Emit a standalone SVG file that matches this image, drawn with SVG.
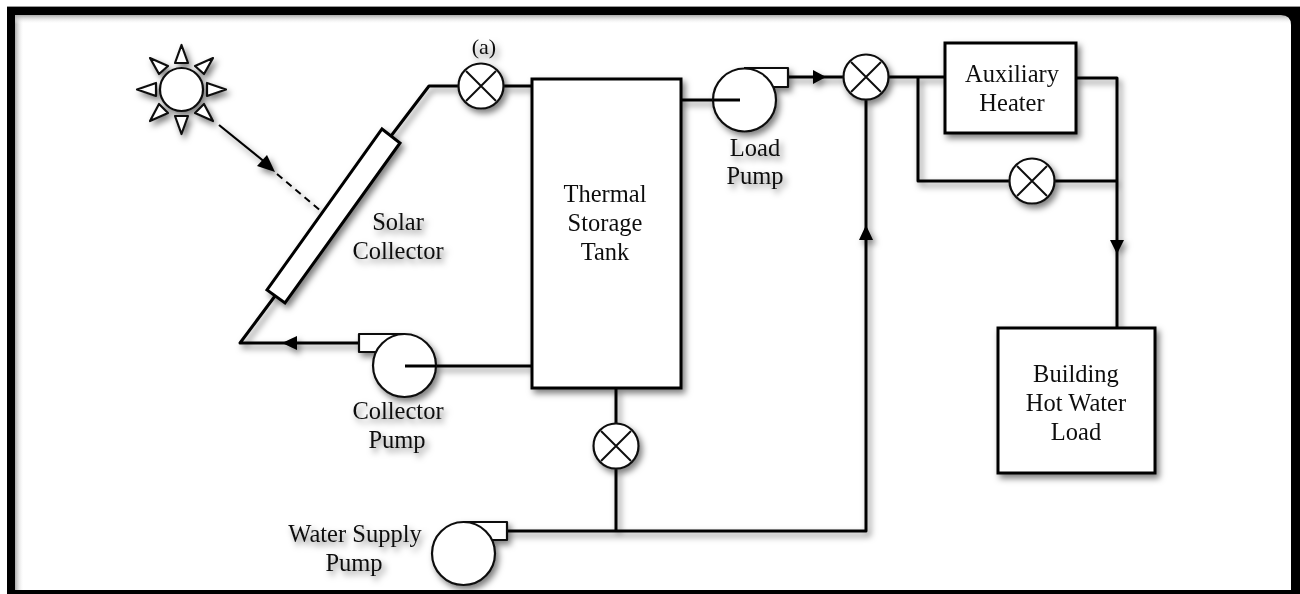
<svg xmlns="http://www.w3.org/2000/svg" width="1300" height="594" viewBox="0 0 1300 594">
<style>
.p{fill:none;stroke:#000;stroke-width:3;stroke-linejoin:round}
.b{fill:#fff;stroke:#000;stroke-width:3}
.t{fill:#fff;stroke:#111;stroke-width:2.200;stroke-linejoin:round}
.c{fill:#fff;stroke:#111;stroke-width:2.200}
.x{stroke:#111;stroke-width:2;fill:none}
.a{fill:#000}
text{font-family:"Liberation Serif","Times New Roman",serif;font-size:24.500px;fill:#111;text-anchor:middle}
</style>
<defs>
<filter id="s" x="0" y="0" width="1300" height="594" filterUnits="userSpaceOnUse">
<feGaussianBlur in="SourceGraphic" stdDeviation=".45" result="g"/>
<feDropShadow in="g" dx="3" dy="4" stdDeviation="3" flood-color="#000" flood-opacity=".5"/>
</filter>
<linearGradient id="gl" x1="0" x2="1" y1="0" y2="0"><stop offset="0" stop-color="#aaa"/><stop offset="1" stop-color="#fff" stop-opacity="0"/></linearGradient>
<linearGradient id="gt" x1="0" x2="0" y1="0" y2="1"><stop offset="0" stop-color="#aaa"/><stop offset="1" stop-color="#fff" stop-opacity="0"/></linearGradient>
</defs>
<rect width="1300" height="594" fill="#fff"/>
<g filter="url(#s)">
<g id="connectors">
<path class="p" d="M391,136L429,86H460M503,86H532"/>
<path class="p" d="M681,100H740"/>
<path class="p" d="M788,77H845"/>
<path class="a" d="M826,77L813,70V84z"/>
<path class="p" d="M889,77H945M918,77V181H1009M1055,181H1117M1076,78H1117V328"/>
<path class="a" d="M1117,254L1110,240H1124z"/>
<path class="p" d="M866,100V531H507"/>
<path class="a" d="M866,225L859,240H873z"/>
<path class="p" d="M616,388V424M616,468V531"/>
<path class="p" d="M405,366H532"/>
<path class="p" d="M359,343H240L275,296"/>
<path class="a" d="M282,343L297,336V350z"/>
<path d="M219,125L266,163" stroke="#000" stroke-width="2.200" fill="none"/>
<path class="a" d="M275,172L257,166 267,155z"/>
<path d="M277,174L321,211" stroke="#000" stroke-width="2" stroke-dasharray="7 5" fill="none"/>
</g>
<g id="sun">
<circle class="c" cx="181.500" cy="89.500" r="21.500"/>
<path class="t" d="M181.500,45L175,63H188zM181.500,134L175,116H188zM137,89.500L156,83V96zM226,89.500L207,83V96zM150,58L168,66 159,74zM213,58L195,66 204,74zM150,121L159,104 168,113zM213,121L204,104 195,113z"/>
</g>
<g id="solar-collector"><polygon class="b" points="382,129 400,143 285,303 267,290"/></g>
<g id="tank"><rect class="b" x="532" y="79" width="149" height="309"/></g>
<g id="heater"><rect class="b" x="945" y="43" width="131" height="90"/></g>
<g id="building"><rect class="b" x="998" y="328" width="157" height="145"/></g>
<g id="valve-a"><circle class="c" cx="481" cy="86" r="22.500"/><path class="x" d="M466,71L496,101M496,71L466,101"/></g>
<g id="valve-load"><circle class="c" cx="866" cy="77" r="22.500"/><path class="x" d="M851,62L881,92M881,62L851,92"/></g>
<g id="valve-bypass"><circle class="c" cx="1032" cy="181" r="22.500"/><path class="x" d="M1017,166L1047,196M1047,166L1017,196"/></g>
<g id="valve-supply"><circle class="c" cx="616" cy="446" r="22.500"/><path class="x" d="M601,431L631,461M631,431L601,461"/></g>
<g id="load-pump"><path class="t" d="M744,68H788V87H760"/><circle class="c" cx="744.500" cy="100" r="31.500"/><path class="p" d="M713,100H740"/></g>
<g id="collector-pump"><path class="t" d="M404,334H359V352H390"/><circle class="c" cx="404.500" cy="365.500" r="31.500"/><path class="p" d="M405,366H436"/></g>
<g id="water-pump"><path class="t" d="M463,522H507V540H480"/><circle class="c" cx="463.500" cy="553.500" r="31.500"/></g>
<g id="labels">
<text x="484" y="54" style="font-size:22px">(a)</text>
<text x="398" y="230">Solar</text><text x="398" y="259">Collector</text>
<text x="605" y="202">Thermal</text><text x="605" y="231">Storage</text><text x="605" y="260">Tank</text>
<text x="755" y="156">Load</text><text x="755" y="184">Pump</text>
<text x="1012" y="82">Auxiliary</text><text x="1012" y="111">Heater</text>
<text x="1076" y="382">Building</text><text x="1076" y="411">Hot Water</text><text x="1076" y="440">Load</text>
<text x="398" y="419">Collector</text><text x="397" y="448">Pump</text>
<text x="355" y="542">Water Supply</text><text x="354" y="571">Pump</text>
</g>
</g>
<g id="frame">
<rect x="15" y="15" width="9" height="575" fill="url(#gl)"/>
<rect x="15" y="15" width="1277" height="9" fill="url(#gt)"/>
<path d="M1280,15H1292V27Q1292,15 1280,15z" fill="#999"/>
<rect x="7" y="6" width="1293" height="1" fill="#999"/>
<path fill="#000" fill-rule="evenodd" d="M7,7H1300V594H7zM15,15V590H1291V25Q1291,15 1281,15z"/>
</g>
</svg>
